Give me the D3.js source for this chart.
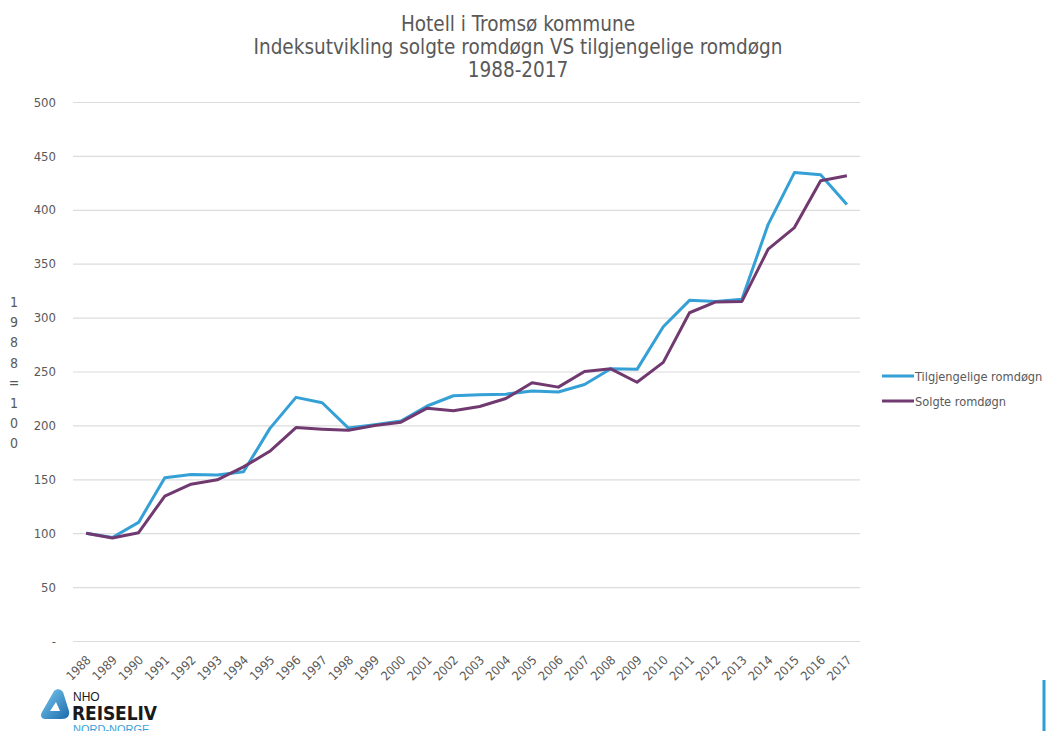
<!DOCTYPE html>
<html>
<head>
<meta charset="utf-8">
<script src="https://cdn.jsdelivr.net/npm/d3@7"></script>
<style>
  body { margin: 0; background: #fff; }
  text { font-family: "DejaVu Sans Condensed", "DejaVu Sans", sans-serif; font-stretch: condensed; }
</style>
</head>
<body>
<div id="wrapper"></div>
<script>
const years = d3.range(1988, 2018)
const tilgjengelige = [100, 96, 110, 151.5, 154.5, 154, 157, 197, 226, 221, 197.5, 200.5, 204, 218, 227.5,
    228.5, 229, 232, 231, 238, 252.5, 252, 291.5, 316, 315, 317, 386.5, 434.5, 432.5, 405]
const solgte = [100, 95.5, 100.5, 134.5, 145.5, 149.5, 161.5, 176, 198, 196.5, 195.5, 200, 203, 216, 213.5,
    217.5, 225, 239.5, 235.5, 250, 252.5, 240, 258.5, 304.5, 314.5, 315, 363.5, 383.5, 427, 431.5]
const yTicks = d3.range(0, 501, 50)
const titleLines = ["Hotell i Tromsø kommune", "Indeksutvikling solgte romdøgn VS tilgjengelige romdøgn", "1988-2017"]
const yLabel = "1988=100"
const seriesNames = ["Tilgjengelige romdøgn", "Solgte romdøgn"]
const colors = ["#34a0d6", "#703a70"]

const width = 1046
const height = 731
const plot = { left: 73, right: 860, top: 102, bottom: 641 }

const svg = d3.select("#wrapper")
    .append("svg")
    .attr("width", width)
    .attr("height", height)

const xScale = d3.scalePoint()
    .domain(years)
    .range([plot.left, plot.right])
    .padding(0.5)
const yScale = d3.scaleLinear()
    .domain([0, 500])
    .range([plot.bottom, plot.top])

// title
svg.append("g")
    .selectAll("text")
    .data(titleLines)
    .join("text")
    .attr("x", 518)
    .attr("y", (d, i) => 31 + i * 23)
    .attr("text-anchor", "middle")
    .attr("font-size", 20.5)
    .attr("fill", "#595959")
    .text(d => d)

// y axis with gridlines
const yAxis = svg.append("g")
    .attr("transform", `translate(${plot.left},0)`)
    .call(d3.axisLeft(yScale)
        .tickValues(yTicks)
        .tickSize(-(plot.right - plot.left))
        .tickPadding(17)
        .tickFormat(d => d === 0 ? "-" : d))
yAxis.select(".domain").remove()
yAxis.selectAll(".tick line").attr("stroke", "#dcdcdc").attr("stroke-width", 1.2)
yAxis.selectAll(".tick text")
    .attr("fill", "#595959")
    .attr("font-size", 13)
    .style("font-family", "DejaVu Sans Condensed, DejaVu Sans, sans-serif")

// vertical y label, one char per row
svg.append("g")
    .selectAll("text")
    .data(yLabel.split(""))
    .join("text")
    .attr("x", 14)
    .attr("y", (d, i) => 307 + i * 20.2)
    .attr("text-anchor", "middle")
    .attr("font-size", 14)
    .attr("fill", "#595959")
    .text(d => d)

// x axis
const xAxis = svg.append("g")
    .attr("transform", `translate(0,${plot.bottom})`)
    .call(d3.axisBottom(xScale).tickSize(0).tickPadding(0))
xAxis.select(".domain").remove()
xAxis.selectAll(".tick text")
    .attr("fill", "#595959")
    .attr("font-size", 12.5)
    .style("font-family", "DejaVu Sans Condensed, DejaVu Sans, sans-serif")
    .attr("text-anchor", "end")
    .attr("dy", 0)
    .attr("y", 0)
    .attr("transform", "translate(5,20) rotate(-45)")

// lines, purple drawn on top
const lineGenerator = d3.line()
    .x((d, i) => xScale(years[i]))
    .y(d => yScale(d))
svg.append("g")
    .selectAll("path")
    .data([tilgjengelige, solgte])
    .join("path")
    .attr("d", d => lineGenerator(d))
    .attr("fill", "none")
    .attr("stroke", (d, i) => colors[i])
    .attr("stroke-width", 3)
    .attr("stroke-linejoin", "round")

// legend
const legend = svg.append("g")
    .selectAll("g")
    .data(seriesNames)
    .join("g")
    .attr("transform", (d, i) => `translate(882,${376 + i * 25})`)
legend.append("line")
    .attr("x1", 0)
    .attr("x2", 32)
    .attr("stroke", (d, i) => colors[i])
    .attr("stroke-width", 3)
legend.append("text")
    .attr("x", 33)
    .attr("y", 4.5)
    .attr("font-size", 12.7)
    .attr("fill", "#595959")
    .text(d => d)

// logo
const logo = svg.append("g").attr("transform", "translate(41,689)")
const grad = svg.append("defs").append("linearGradient")
    .attr("id", "logoGrad")
    .attr("x1", 0).attr("y1", 0).attr("x2", 1).attr("y2", 1)
grad.append("stop").attr("offset", "0%").attr("stop-color", "#7ccbef")
grad.append("stop").attr("offset", "100%").attr("stop-color", "#1a6aad")
logo.append("path")
    .attr("d", "M13,2 C16,-1 20,0 22,3 L28,22 C29,27 26,30 21,30 L4,30 C0,30 -1,26 1,23 Z")
    .attr("fill", "url(#logoGrad)")
logo.append("path")
    .attr("d", "M15,13 L19,22 L9,22 Z")
    .attr("fill", "#ffffff")
logo.append("text")
    .attr("x", 32).attr("y", 12)
    .attr("font-size", 12)
    .attr("fill", "#1a1a1a")
    .style("font-family", "Liberation Sans, Arial, sans-serif")
    .text("NHO")
logo.append("text")
    .attr("x", 31).attr("y", 31)
    .attr("font-size", 19)
    .attr("font-weight", "bold")
    .attr("fill", "#1a1a1a")
    .style("font-family", "DejaVu Sans, sans-serif")
    .attr("textLength", 85)
    .text("REISELIV")
logo.append("text")
    .attr("x", 32).attr("y", 44)
    .attr("font-size", 11)
    .attr("fill", "#3aa0d8")
    .style("font-family", "Liberation Sans, Arial, sans-serif")
    .text("NORD-NORGE")

// blue bar bottom right
svg.append("rect")
    .attr("x", 1042.5)
    .attr("y", 680)
    .attr("width", 3)
    .attr("height", 51)
    .attr("fill", "#2e9fd6")
</script>
</body>
</html>
